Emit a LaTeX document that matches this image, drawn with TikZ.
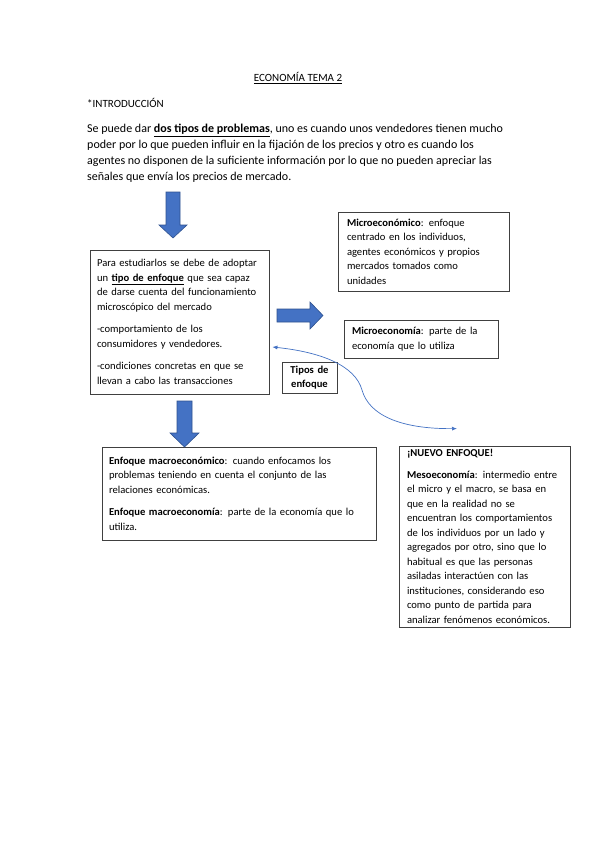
\documentclass[tikz,border=0pt]{standalone}
\usepackage{fontspec}
\setmainfont{Carlito}
\usetikzlibrary{arrows.meta}
\definecolor{azul}{HTML}{4472C4}
\definecolor{azulosc}{HTML}{2F528F}

\begin{document}
\begin{tikzpicture}[x=1pt, y=-1pt,
    caja/.style={draw=black!75, line width=0.8pt, inner xsep=7pt, align=left,
                 font=\fontsize{10.6}{14.5}\selectfont},
    flecha/.style={fill=azul, draw=azulosc, line width=0.6pt, line join=miter},
    curva/.style={draw=azul, line width=0.7pt, {Latex[length=5pt,width=4pt]}-{Latex[length=5pt,width=4pt]}}]
    % Page
    \useasboundingbox[fill=white] (0,0) rectangle (599,848);

    % Heading and introduction
    \node[font=\fontsize{11}{13}\selectfont] (titulo) at (298,78) {\underline{ECONOMÍA TEMA 2}};
    \node[anchor=west, inner sep=0pt, font=\fontsize{11}{13}\selectfont] (intro) at (87,103) {*INTRODUCCIÓN};
    \node[anchor=north west, inner sep=0pt, align=left, font=\fontsize{12}{16}\selectfont] (parrafo) at (87,124)
        {Se puede dar \underline{\textbf{dos tipos de problemas}}, uno es cuando unos vendedores tienen mucho\\
         poder por lo que pueden influir en la fijación de los precios y otro es cuando los\\
         agentes no disponen de la suficiente información por lo que no pueden apreciar las\\
         señales que envía los precios de mercado.};

    % Boxes
    \node[caja, text width=165pt, minimum height=144pt] (enfoque) at (179.5,322)
        {Para estudiarlos se debe de adoptar\\
         un \underline{\textbf{tipo de enfoque}} que sea capaz\\
         de darse cuenta del funcionamiento\\
         microscópico del mercado\\[8pt]
         -comportamiento de los\\
         consumidores y vendedores.\\[8pt]
         -condiciones concretas en que se\\
         llevan a cabo las transacciones};
    \node[caja, inner xsep=9pt, text width=153pt, minimum height=79pt] (micro) at (423.5,251.5)
        {\textbf{Microeconómico}: enfoque\\
         centrado en los individuos,\\
         agentes económicos y propios\\
         mercados tomados como\\
         unidades};
    \node[caja, inner xsep=8pt, text width=138pt, minimum height=38pt] (microeco) at (421,339)
        {\textbf{Microeconomía}: parte de la\\
         economía que lo utiliza};
    \node[caja, inner xsep=2pt, text width=51pt, minimum height=31pt, align=center] (tipos) at (309.5,377.5)
        {\textbf{Tipos de}\\ \textbf{enfoque}};
    \node[caja, text width=260pt, minimum height=93pt] (macro) at (239,493.5)
        {\textbf{Enfoque macroeconómico}: cuando enfocamos los\\
         problemas teniendo en cuenta el conjunto de las\\
         relaciones económicas.\\[8pt]
         \textbf{Enfoque macroeconomía}: parte de la economía que lo\\
         utiliza.};
    \node[caja, inner xsep=8pt, text width=155pt, minimum height=181pt] (meso) at (484.5,536.5)
        {\textbf{¡NUEVO ENFOQUE!}\\[7pt]
         \textbf{Mesoeconomía}: intermedio entre\\
         el micro y el macro, se basa en\\
         que en la realidad no se\\
         encuentran los comportamientos\\
         de los individuos por un lado y\\
         agregados por otro, sino que lo\\
         habitual es que las personas\\
         asiladas interactúen con las\\
         instituciones, considerando eso\\
         como punto de partida para\\
         analizar fenómenos económicos.};

    % Block arrows
    \filldraw[flecha] (166,192) -- (180,192) -- (180,225) -- (187,225) -- (173,238) -- (159,225) -- (166,225) -- cycle;
    \filldraw[flecha] (277,309) -- (310,309) -- (310,302) -- (323,315.5) -- (310,329) -- (310,322) -- (277,322) -- cycle;
    \filldraw[flecha] (177,401) -- (192,401) -- (192,433) -- (199,433) -- (184.5,447) -- (170,433) -- (177,433) -- cycle;

    % Curved connector
    \coordinate (ini) at ([xshift=3pt, yshift=-25pt]enfoque.east);
    \coordinate (fin) at ([yshift=17pt]meso.north -| 457,0);
    \draw[curva] (ini) .. controls (320,352) and (355,365) .. (362,390)
                       .. controls (369,415) and (400,429) .. (fin);
\end{tikzpicture}
\end{document}
